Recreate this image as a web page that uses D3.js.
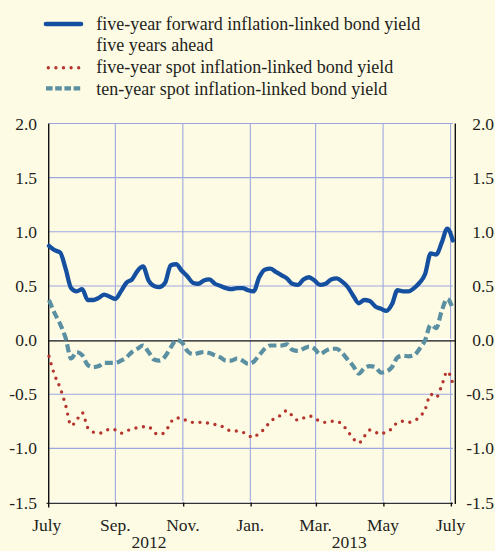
<!DOCTYPE html>
<html><head><meta charset="utf-8">
<script src="https://cdn.jsdelivr.net/npm/d3@7"></script>
<style>html,body{margin:0;padding:0;background:#FEFBE5;} svg{display:block;} text{font-family:"Liberation Serif","Times New Roman","DejaVu Serif",serif;}</style>
</head><body><svg id="c" width="495" height="551"></svg>
<script>
const dates = ["2012-07-03","2012-07-08","2012-07-13","2012-07-18","2012-07-23","2012-07-28",
"2012-08-02","2012-08-07","2012-08-12","2012-08-17","2012-08-22","2012-08-27",
"2012-09-01","2012-09-06","2012-09-11","2012-09-16","2012-09-21","2012-09-26",
"2012-10-01","2012-10-06","2012-10-11","2012-10-16","2012-10-21","2012-10-26","2012-10-31",
"2012-11-05","2012-11-10","2012-11-15","2012-11-20","2012-11-25","2012-11-30",
"2012-12-05","2012-12-10","2012-12-15","2012-12-20","2012-12-25","2012-12-30",
"2013-01-04","2013-01-09","2013-01-14","2013-01-19","2013-01-24","2013-01-29",
"2013-02-03","2013-02-08","2013-02-13","2013-02-18","2013-02-23","2013-02-28",
"2013-03-05","2013-03-10","2013-03-15","2013-03-20","2013-03-25","2013-03-30",
"2013-04-04","2013-04-09","2013-04-14","2013-04-19","2013-04-24","2013-04-29",
"2013-05-04","2013-05-09","2013-05-14","2013-05-19","2013-05-24","2013-05-29",
"2013-06-03","2013-06-08","2013-06-13","2013-06-18","2013-06-23","2013-06-28",
"2013-07-03"];
const forward5y5y = [0.87,0.83,0.81,0.66,0.48,0.45,0.47,0.37,0.37,0.39,
 0.42,0.40,0.38,0.45,0.53,0.56,0.64,0.68,0.55,0.50,
 0.49,0.53,0.69,0.70,0.64,0.59,0.53,0.52,0.55,0.56,
 0.52,0.50,0.48,0.47,0.48,0.48,0.46,0.45,0.58,0.65,
 0.66,0.63,0.60,0.57,0.52,0.51,0.56,0.58,0.55,0.51,
 0.52,0.56,0.57,0.54,0.49,0.41,0.34,0.37,0.36,0.31,
 0.29,0.27,0.33,0.46,0.45,0.45,0.48,0.53,0.61,0.80,
 0.79,0.90,1.03,0.92];
const spot5y = [-0.15,-0.32,-0.44,-0.60,-0.79,-0.74,-0.67,-0.81,-0.85,-0.86,
 -0.85,-0.82,-0.83,-0.86,-0.84,-0.82,-0.81,-0.80,-0.80,-0.855,
 -0.87,-0.85,-0.76,-0.72,-0.72,-0.75,-0.76,-0.76,-0.76,-0.77,
 -0.78,-0.79,-0.82,-0.84,-0.84,-0.85,-0.88,-0.90,-0.855,-0.82,
 -0.75,-0.72,-0.69,-0.65,-0.70,-0.74,-0.72,-0.70,-0.72,-0.75,
 -0.76,-0.75,-0.75,-0.78,-0.84,-0.91,-0.95,-0.89,-0.83,-0.85,
 -0.87,-0.84,-0.82,-0.76,-0.75,-0.76,-0.745,-0.71,-0.64,-0.50,
 -0.53,-0.42,-0.29,-0.40];
const spot10y = [0.37,0.25,0.15,0.02,-0.17,-0.11,-0.14,-0.23,-0.25,-0.24,
 -0.21,-0.21,-0.21,-0.19,-0.16,-0.11,-0.08,-0.05,-0.11,-0.18,
 -0.19,-0.15,-0.07,0.00,-0.02,-0.10,-0.13,-0.12,-0.11,-0.12,
 -0.14,-0.16,-0.19,-0.19,-0.17,-0.19,-0.22,-0.20,-0.14,-0.08,
 -0.05,-0.05,-0.05,-0.04,-0.09,-0.10,-0.08,-0.06,-0.08,-0.13,
 -0.10,-0.08,-0.08,-0.12,-0.18,-0.24,-0.31,-0.26,-0.24,-0.25,
 -0.30,-0.29,-0.25,-0.16,-0.145,-0.15,-0.14,-0.08,0.00,0.14,
 0.11,0.27,0.38,0.29];
const yTicks = [-1.5,-1.0,-0.5,0.0,0.5,1.0,1.5,2.0];
const monthTicks = ["2012-07-01","2012-09-01","2012-11-01","2013-01-01","2013-03-01","2013-05-01","2013-07-01"];
const monthLabels = ["July","Sep.","Nov.","Jan.","Mar.","May","July"];
const yearLabels = ["2012","2013"];
const yearSpans = [["2012-09-01","2012-11-01"],["2013-03-01","2013-05-01"]];
const legendLabels = [["five-year forward inflation-linked bond yield","five years ahead"],
  ["five-year spot inflation-linked bond yield"],["ten-year spot inflation-linked bond yield"]];
const xDomain = ["2012-07-03","2013-07-05"];

const parse = d3.timeParse("%Y-%m-%d");
const svg = d3.select("#c");
const TXT = "#231F20";
const FS = 17.5;
const L = 49, R = 455, T = 123.5, B = 502.5;
const x = d3.scaleTime().domain(xDomain.map(parse)).range([L, R]);
const y = d3.scaleLinear().domain([-1.5, 2]).range([B, T]);
const GRID = "#9DA8E0";

svg.append("rect").attr("width",495).attr("height",551).attr("fill","#FEFBE5");

svg.append("g").selectAll("line").data(yTicks.filter(v => v !== 0 && v !== -1.5)).join("line")
  .attr("x1", L).attr("x2", 453).attr("y1", d => y(d)).attr("y2", d => y(d))
  .attr("stroke", GRID).attr("stroke-width", 1.1);
const mt = monthTicks.map(parse);
svg.append("g").selectAll("line").data(mt.filter(d => x(d) > L + 1)).join("line")
  .attr("x1", d => x(d)).attr("x2", d => x(d)).attr("y1", T).attr("y2", B)
  .attr("stroke", GRID).attr("stroke-width", 1.1);

const y0 = y(0);
svg.append("line").attr("x1", L).attr("x2", R).attr("y1", y0 - 0.6).attr("y2", y0 - 0.6).attr("stroke", "#fff").attr("stroke-width", 1.4);
svg.append("line").attr("x1", L).attr("x2", R).attr("y1", y0 + 0.8).attr("y2", y0 + 0.8).attr("stroke", "#111").attr("stroke-width", 1.3);
svg.append("line").attr("x1", L).attr("x2", 453).attr("y1", B - 0.6).attr("y2", B - 0.6).attr("stroke", "#fff").attr("stroke-width", 1.4);
svg.append("line").attr("x1", 46.5).attr("x2", 453).attr("y1", B + 0.8).attr("y2", B + 0.8).attr("stroke", "#333").attr("stroke-width", 1.3);
svg.append("line").attr("x1", L - 0.3).attr("x2", L - 0.3).attr("y1", T).attr("y2", B + 5).attr("stroke", "#111").attr("stroke-width", 1.4);
svg.append("line").attr("x1", R + 0.3).attr("x2", R + 0.3).attr("y1", T).attr("y2", B + 1.5).attr("stroke", "#111").attr("stroke-width", 1.4);
svg.append("g").selectAll("line").data(mt.filter(d => x(d) > L + 1)).join("line")
  .attr("x1", d => x(d) + 0.8).attr("x2", d => x(d) + 0.8).attr("y1", B).attr("y2", B + 4)
  .attr("stroke", "#111").attr("stroke-width", 1.4);

const fmt = d3.format(".1f");
const lab = v => fmt(v).replace("\u2212", "-");
svg.append("g").selectAll("text").data(yTicks).join("text")
  .attr("x", 37).attr("y", d => y(d) + 6).attr("text-anchor", "end")
  .attr("font-size", FS).attr("fill", TXT).text(lab);
svg.append("g").selectAll("text").data(yTicks).join("text")
  .attr("x", 494).attr("y", d => y(d) + 6).attr("text-anchor", "end")
  .attr("font-size", FS).attr("fill", TXT).text(lab);

svg.append("g").selectAll("text").data(mt).join("text")
  .attr("x", d => x(d)).attr("y", 531).attr("text-anchor", "middle")
  .attr("font-size", FS).attr("fill", TXT)
  .text((d, i) => monthLabels[i]);
svg.append("g").selectAll("text").data(yearLabels).join("text")
  .attr("x", (d, i) => (x(parse(yearSpans[i][0])) + x(parse(yearSpans[i][1]))) / 2)
  .attr("y", 548).attr("text-anchor", "middle")
  .attr("font-size", FS).attr("fill", TXT).text(d => d);

const pd = dates.map(parse);
const mk = vals => d3.line().x((d, i) => x(pd[i])).y(d => y(d)).curve(d3.curveMonotoneX)(vals);
const styles = [
  {color: "#1550A0", width: 4.3, dash: null, cap: "round"},
  {color: "#B5362E", width: 3.4, dash: "0 7.6", cap: "round"},
  {color: "#5A90A2", width: 4.2, dash: "8 4", cap: "butt"}
];
const series = [forward5y5y, spot5y, spot10y];
[2, 1, 0].forEach(k => {
  svg.append("path").attr("d", mk(series[k])).attr("fill", "none")
    .attr("stroke", styles[k].color).attr("stroke-width", styles[k].width)
    .attr("stroke-dasharray", styles[k].dash).attr("stroke-linecap", styles[k].cap)
    .attr("stroke-linejoin", "round");
});

const legRows = [24, 67.7, 88.3];
const legBase = [[29.5, 51], [73], [94.5]];
legendLabels.forEach((lines, k) => {
  const s = styles[k];
  svg.append("line").attr("x1", k === 1 ? 48.3 : 46).attr("x2", 81)
    .attr("y1", legRows[k]).attr("y2", legRows[k])
    .attr("stroke", s.color).attr("stroke-width", k === 0 ? 4.6 : s.width)
    .attr("stroke-dasharray", k === 2 ? "6.6 2.6" : s.dash).attr("stroke-linecap", s.cap);
  lines.forEach((t, j) => {
    svg.append("text").attr("x", 96.3).attr("y", legBase[k][j])
      .attr("font-size", 18).attr("fill", TXT).text(t);
  });
});
</script></body></html>
